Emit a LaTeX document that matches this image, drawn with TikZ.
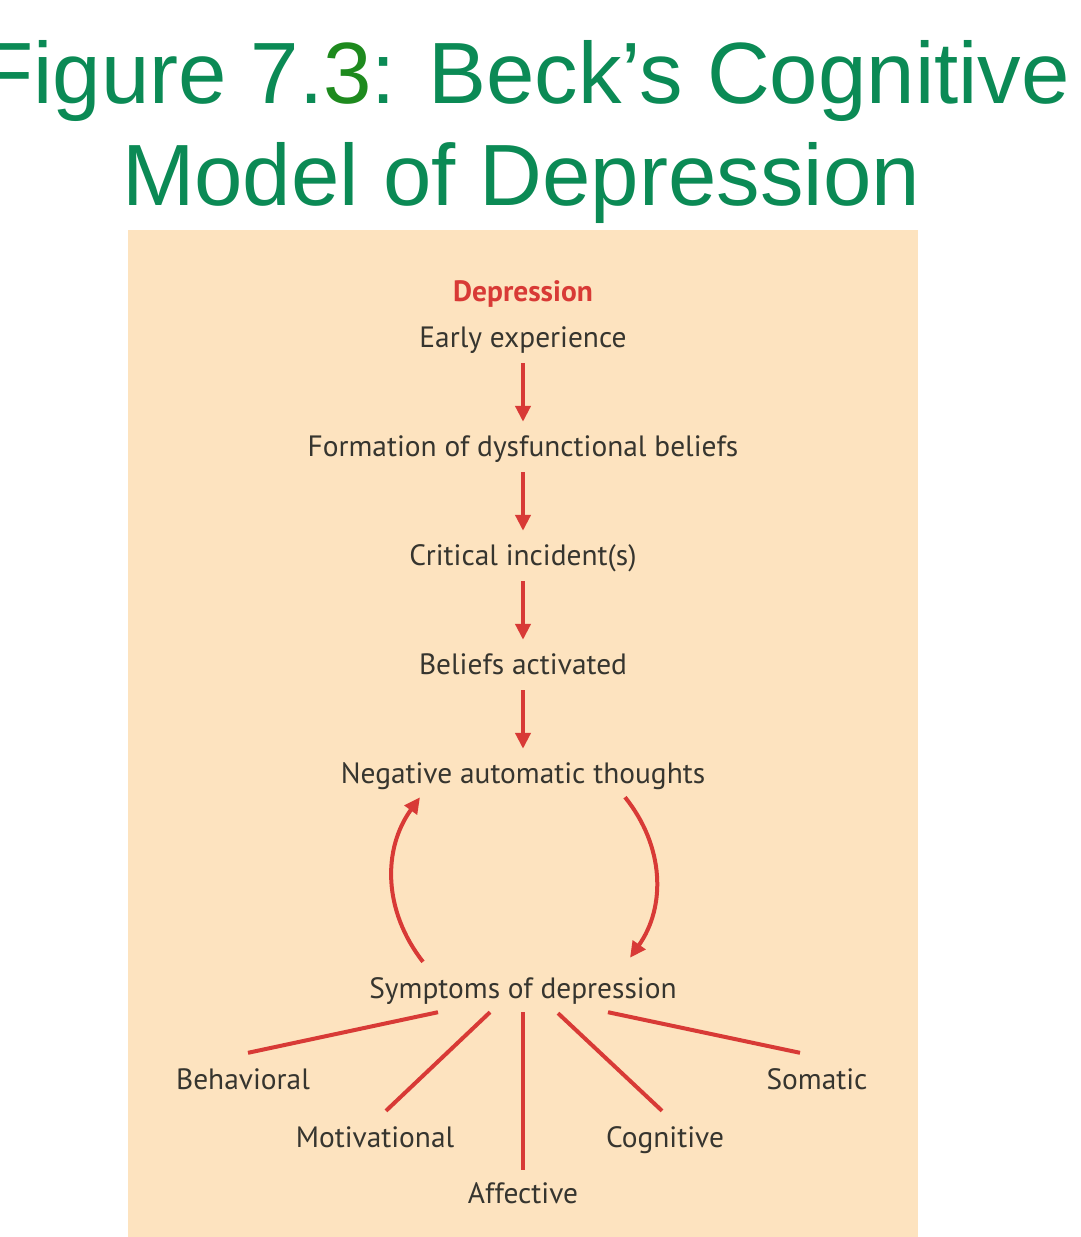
\documentclass[tikz,border=0pt]{standalone}
\usepackage{fontspec}
\setmainfont{PT Sans}
\newfontfamily\titlefont{Liberation Sans}
\usepackage{xcolor}
\usepackage{tikz}
\usetikzlibrary{arrows.meta,positioning}

\definecolor{titlegreen}{HTML}{0B8A55}
\definecolor{threegreen}{HTML}{1E8A1E}
\definecolor{panelbg}{HTML}{FDE3BF}
\definecolor{arrowred}{HTML}{D83A36}
\definecolor{textgrey}{HTML}{36352F}

\begin{document}
\begin{tikzpicture}[
    x=1pt, y=1pt,
    node distance=109pt, on grid,
    stage/.style={inner sep=0pt, text height=22pt, text depth=7pt, font=\fontsize{29.4}{35}\selectfont, text=textgrey},
    heading/.style={anchor=base, inner sep=0pt, font=\titlefont\fontsize{87}{90}\selectfont, text=titlegreen},
    arrow/.style={-{Triangle[length=16pt,width=15pt]}, line width=4pt, draw=arrowred, shorten <=9pt, shorten >=12pt},
    loop/.style={-{Triangle[length=16pt,width=15pt]}, line width=4pt, draw=arrowred},
    branch/.style={line width=4pt, draw=arrowred}
]
\useasboundingbox (0,0) rectangle (1080,-1237);
\fill[panelbg] (128,-230) rectangle (918,-1237);

% title
\node[heading] (title) at (525,-103) {Figure 7.\textcolor{threegreen}{3}: Beck’s Cognitive};
\node[heading] (subtitle) at (521,-205) {Model of Depression};

% main chain
\node[stage] (early) at (523,-339.5) {Early experience};
\node[stage, above=46pt of early, font=\bfseries\fontsize{29.4}{35}\selectfont, text=arrowred] (depr) {Depression};
\node[stage, below=of early] (form) {Formation of dysfunctional beliefs};
\node[stage, below=of form] (crit) {Critical incident(s)};
\node[stage, below=of crit] (active) {Beliefs activated};
\node[stage, below=of active] (neg) {Negative automatic thoughts};
\node[stage, below=215pt of neg] (sym) {Symptoms of depression};

% kinds of symptoms
\node[stage, below left=91pt and 280pt of sym] (behav) {Behavioral};
\node[stage, below left=149pt and 148pt of sym] (motiv) {Motivational};
\node[stage, below=205pt of sym] (affect) {Affective};
\node[stage, below right=149pt and 142pt of sym] (cogn) {Cognitive};
\node[stage, below right=91pt and 294pt of sym] (somat) {Somatic};

\draw[arrow] (early) -- (form);
\draw[arrow] (form) -- (crit);
\draw[arrow] (crit) -- (active);
\draw[arrow] (active) -- (neg);

\draw[loop] ([xshift=-100pt,yshift=14pt]sym.north) to[bend left=37] ([xshift=-103pt,yshift=-7pt]neg.south);
\draw[loop] ([xshift=102pt,yshift=-7pt]neg.south) to[bend left=37] ([xshift=107pt,yshift=18pt]sym.north);

\draw[branch] ([xshift=-85pt,yshift=-7pt]sym.south) -- ([xshift=5pt,yshift=14pt]behav.north);
\draw[branch] ([xshift=-33pt,yshift=-7pt]sym.south) -- ([xshift=11pt,yshift=14pt]motiv.north);
\draw[branch] ([yshift=-7pt]sym.south) -- ([yshift=11pt]affect.north);
\draw[branch] ([xshift=35pt,yshift=-8pt]sym.south) -- ([xshift=-3pt,yshift=14pt]cogn.north);
\draw[branch] ([xshift=85pt,yshift=-7pt]sym.south) -- ([xshift=-17pt,yshift=14pt]somat.north);
\end{tikzpicture}
\end{document}
